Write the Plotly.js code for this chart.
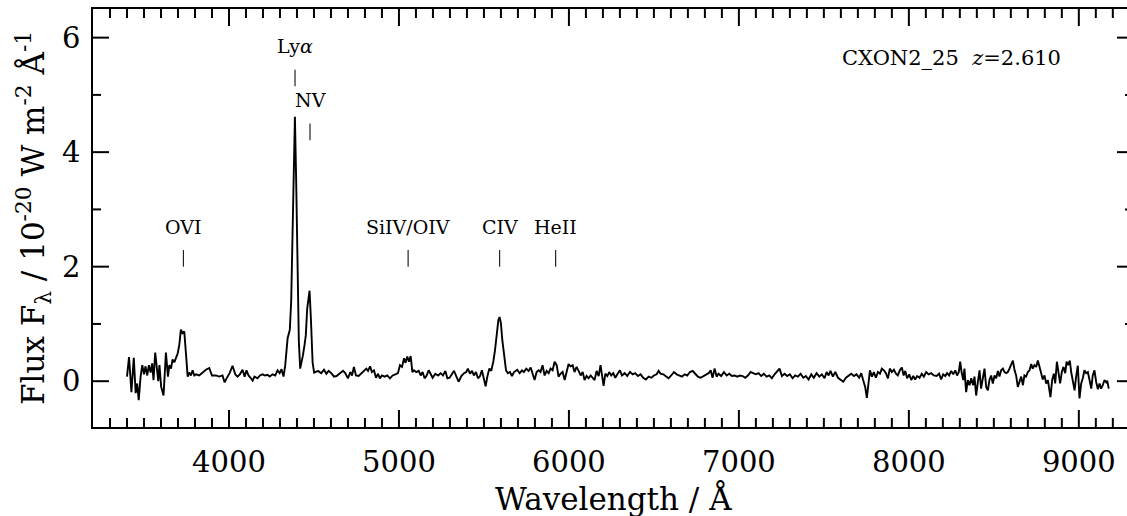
<!DOCTYPE html>
<html>
<head>
<meta charset="utf-8">
<script src="https://cdn.plot.ly/plotly-3.0.1.min.js"></script>
<style>
  html, body { margin: 0; padding: 0; background: #fff; overflow: hidden; }
  #chart { width: 1133px; height: 516px; }
</style>
</head>
<body>
<div id="chart"></div>
<script>
// ---- Spectrum data ----
const wavelength = [
3400,3412,3426,3440,3451,3460,3469,3480,3490,3500,3509,3519,3529,3539,3548,3556,3566,3574,3584,3591,
3601,3615,3629,3641,3649,3659,3668,3678,3688,3698,3708,3717,3727,3737,3747,3757,3766,3776,3786,3796,
3806,3825,3845,3864,3884,3900,3923,3943,3962,3974,3986,4005,4021,4037,4050,4064,4080,4092,4103,4115,
4127,4139,4150,4168,4182,4198,4211,4227,4240,4256,4272,4286,4298,4309,4321,4331,4345,4358,4366,4374,
4382,4388,4396,4403,4411,4419,4427,4435,4444,4452,4460,4468,4474,4482,4492,4501,
4524,4543,4559,4573,4586,4602,4618,4633,4651,4671,4684,4700,4714,4724,4735,4747,4763,4779,4794,4808,
4818,4830,4841,4853,4865,4877,4888,4900,4916,4931,4947,4963,4979,4994,5006,5018,5030,5039,5049,5059,
5069,5079,5088,5102,5116,5128,5139,5151,5163,5175,5186,5198,5214,5230,5245,5259,5273,5285,5298,5312,
5324,5337,5351,5367,5383,5396,5406,5418,5430,5441,5453,5465,5477,5488,5500,5510,5520,5532,5543,5555,
5565,5575,5585,5592,5600,5608,5618,5630,5641,5653,5665,5677,
5696,5710,5724,5735,5749,5763,5775,5788,5798,5810,5822,5833,5845,5857,5869,5881,5892,5904,5916,5928,
5939,5951,5963,5975,5986,5998,6010,6022,6033,6045,6057,6069,6081,6092,6104,6116,6128,6139,6151,6163,
6175,6186,6196,6204,6214,6226,6237,6249,6261,6273,6285,6300,6312,6328,6343,6359,6375,6390,6406,6422,
6437,6453,6469,6485,6500,6516,6528,6539,6555,6571,6586,6602,6618,6634,6649,6665,6681,6696,6712,6728,
6743,6759,6775,6790,6806,6822,6834,6845,
6857,6869,6880,6896,6912,6928,6943,6959,6975,6990,7006,7022,7037,7053,7069,7084,7100,7116,7131,7147,
7163,7179,7194,7210,7226,7239,7253,7269,7284,7300,7316,7331,7347,7363,7379,7394,7410,7426,7441,7457,
7473,7488,7504,7516,7528,7539,7553,7567,7583,7598,7614,7630,7645,7661,7677,7692,7708,7720,7731,7743,
7753,7763,7771,7783,7794,7806,7818,7830,7841,7853,7865,7877,7888,7900,7912,7924,7935,7947,7959,7969,
7979,7990,8002,8014,8026,8037,
8049,8063,8076,8088,8102,8116,8131,8147,8163,8178,8190,8202,8214,8225,8237,8249,8261,8273,8284,8294,
8302,8310,8320,8327,8337,8347,8357,8367,8378,8386,8396,8406,8416,8425,8435,8445,8455,8465,8474,8484,
8494,8504,8514,8524,8533,8543,8553,8563,8573,8582,8592,8602,8612,8622,8631,8641,8651,8661,8671,8680,
8690,8700,8710,8720,8729,8739,8749,8759,8769,8778,8788,8798,8808,8818,8827,8833,8843,8853,8861,8871,
8880,8890,8900,8910,8920,8928,8937,8947,8955,8965,8975,8984,8994,9004,9014,9024,9033,9043,9053,9063,
9073,9082,9092,9102,9112,9122,9131,9141,9151,9161,9167,9176
];
const flux = [
0.08,0.42,-0.19,0.41,-0.21,-0.04,-0.33,0.08,0.28,0.12,0.26,0.10,0.28,0.15,0.31,0.02,0.50,0.28,0.00,0.28,
-0.10,-0.25,0.50,0.08,0.28,0.22,0.38,0.33,0.40,0.48,0.64,0.90,0.84,0.87,0.48,0.08,0.15,0.10,0.19,0.10,
0.12,0.10,0.15,0.20,0.23,0.10,0.10,0.08,0.10,-0.02,0.05,0.15,0.27,0.12,0.08,0.12,0.20,0.08,0.19,0.10,
0.06,0.01,0.08,0.05,0.10,0.12,0.10,0.11,0.08,0.12,0.10,0.19,0.14,0.21,0.08,0.28,0.75,0.90,1.40,2.55,
4.00,4.62,3.40,1.80,0.70,0.22,0.31,0.45,0.62,0.80,1.26,1.52,1.58,1.09,0.33,0.15,
0.18,0.14,0.20,0.13,0.18,0.14,0.08,0.09,0.13,0.18,0.14,0.05,0.16,0.10,0.25,0.10,0.09,0.14,0.18,0.22,
0.18,0.26,0.16,0.19,0.06,0.13,0.05,0.10,0.08,0.10,0.05,0.10,0.12,0.14,0.28,0.25,0.40,0.32,0.43,0.34,
0.44,0.16,0.19,0.16,0.18,0.10,0.16,0.05,0.10,0.19,0.13,0.06,0.13,0.10,0.14,0.10,0.18,0.05,0.06,0.12,
0.18,0.09,-0.01,0.09,0.14,0.16,0.22,0.13,0.18,0.10,0.16,0.05,0.09,0.19,0.05,-0.09,0.08,0.22,0.18,0.34,
0.54,0.86,1.07,1.12,1.01,0.72,0.43,0.19,0.14,0.16,0.09,0.16,
0.20,0.14,0.19,0.16,0.22,0.18,0.24,0.13,0.02,0.16,0.19,0.16,0.28,0.10,0.18,0.14,0.22,0.19,0.34,0.28,
0.08,0.13,0.16,0.02,0.14,0.30,0.26,0.28,0.16,0.25,0.18,0.10,0.16,0.02,0.09,0.05,0.10,0.06,0.02,0.18,
0.09,0.28,0.10,-0.08,0.13,0.09,0.16,0.10,0.14,0.06,0.12,0.19,0.10,0.14,0.09,0.16,0.12,0.14,0.09,0.12,
0.06,0.03,0.08,0.06,0.10,0.12,0.18,0.13,0.12,0.09,0.05,0.10,0.16,0.12,0.10,0.08,0.12,0.10,0.16,0.18,
0.13,0.08,0.06,0.09,0.12,0.14,0.19,0.06,
0.22,0.08,0.13,0.09,0.16,0.10,0.13,0.09,0.10,0.08,0.10,0.09,0.06,0.10,0.16,0.14,0.12,0.14,0.09,0.13,
0.08,0.10,0.05,0.12,0.18,0.22,0.09,0.13,0.09,0.12,0.05,0.10,0.08,0.13,0.06,0.09,0.03,0.12,0.06,0.14,
0.08,0.12,0.05,0.16,0.10,0.18,0.08,0.16,0.06,0.03,-0.01,0.06,0.10,0.13,0.09,0.12,0.06,0.14,0.02,-0.10,
-0.29,-0.04,0.19,0.08,0.16,0.06,0.16,0.13,0.22,0.19,0.14,0.05,0.22,0.16,0.20,0.13,0.10,0.19,0.24,0.10,
0.18,0.05,0.12,0.02,0.09,0.03,
0.09,0.06,0.13,0.08,0.16,0.12,0.14,0.10,0.09,0.13,0.03,0.12,0.09,0.14,0.10,0.18,0.12,0.19,0.10,0.16,
0.34,0.16,0.02,0.22,-0.19,0.02,-0.07,0.05,-0.07,0.08,-0.25,-0.01,0.19,-0.13,0.08,0.22,-0.10,-0.16,0.02,0.10,
-0.04,0.10,0.05,0.18,0.08,0.19,0.22,0.16,0.14,0.16,0.22,0.28,0.36,0.19,0.10,-0.10,-0.01,0.08,-0.07,0.10,
0.08,0.16,0.19,0.30,0.22,0.28,0.25,0.36,0.25,0.12,0.03,0.10,-0.04,0.02,-0.22,-0.28,0.02,0.13,-0.04,0.34,
0.16,-0.04,0.16,0.25,0.14,0.34,0.28,0.36,0.16,0.02,-0.16,0.08,0.27,-0.30,-0.04,0.06,0.19,0.14,0.16,0.02,
-0.13,0.10,0.19,-0.01,-0.14,-0.04,-0.13,-0.07,0.02,-0.02,0.01,-0.13
];

// ---- Emission-line identifications ----
const lineNames = ['OVI', 'Ly<i>α</i>', 'NV', 'SiIV/OIV', 'CIV', 'HeII'];
const lineRest  = [1033.8, 1215.67, 1240.1, 1400.0, 1549.06, 1640.4];
const redshift  = 2.610;
const markBase  = [2.0, 5.15, 4.21, 2.0, 2.0, 2.0];
const objectName = 'CXON2_25';

// ---- Axis ranges and tick steps ----
const xRange = [3200, 3200 + 1040 / 0.16997];
const yRange = [-0.8, 6.5];
const xMajorStep = 1000, xMinorStep = 100;
const yMajorStep = 2, yMinorStep = 1;

const FONT = '"DejaVu Serif", "Liberation Serif", serif';
const obsWave = lineRest.map(w => w * (1 + redshift));

// plot-area size in px (for converting tick lengths to data units)
const PLOT_W = 1040, PLOT_H = 418;
const dxPerPx = (xRange[1] - xRange[0]) / PLOT_W;
const dyPerPx = (yRange[1] - yRange[0]) / PLOT_H;

// inward PGPLOT-style ticks on all four sides, built as one line trace
const tickX = [], tickY = [];
for (let v = xRange[0] + xMinorStep; v < xRange[1]; v += xMinorStep) {
  const len = ((v % xMajorStep === 0) ? 17 : 9) * dyPerPx;
  tickX.push(v, v, null, v, v, null);
  tickY.push(yRange[0], yRange[0] + len, null, yRange[1], yRange[1] - len, null);
}
for (let v = 0; v < yRange[1]; v += yMinorStep) {
  const len = ((v % yMajorStep === 0) ? 16 : 8) * dxPerPx;
  tickX.push(xRange[0], xRange[0] + len, null, xRange[1], xRange[1] - len, null);
  tickY.push(v, v, null, v, v, null);
}
// line-identification marks
const markX = [], markY = [];
obsWave.forEach((w, i) => { markX.push(w, w, null); markY.push(markBase[i], markBase[i] + 0.29, null); });

const annotations = obsWave.map((w, i) => ({
  x: w, y: markBase[i] + 0.70, xref: 'x', yref: 'y',
  text: lineNames[i], showarrow: false,
  xanchor: 'center', yanchor: 'middle',
  font: { family: FONT, size: 19, color: '#000' }
}));
annotations.push({
  x: 8252, y: 5.64, xref: 'x', yref: 'y',
  text: objectName + '  <i>z</i>=' + redshift.toFixed(3),
  showarrow: false, xanchor: 'center', yanchor: 'middle',
  font: { family: FONT, size: 21, color: '#000' }
});
// axis titles
annotations.push({
  x: 0.5, y: 0, xref: 'paper', yref: 'paper', yshift: -71,
  text: 'Wavelength / Å', showarrow: false, xanchor: 'center', yanchor: 'middle',
  font: { family: FONT, size: 31, color: '#000' }
});
annotations.push({
  x: 0, y: 0.5, xref: 'paper', yref: 'paper', xshift: -60, textangle: -90,
  text: 'Flux F<sub>λ</sub> / 10<sup>-20</sup> W m<sup>-2</sup> Å<sup>-1</sup>',
  showarrow: false, xanchor: 'center', yanchor: 'middle',
  font: { family: FONT, size: 31, color: '#000' }
});

const traces = [
  { x: tickX, y: tickY, type: 'scatter', mode: 'lines', connectgaps: false,
    line: { color: '#000', width: 2 }, hoverinfo: 'skip', showlegend: false, cliponaxis: false },
  { x: markX, y: markY, type: 'scatter', mode: 'lines', connectgaps: false,
    line: { color: '#222', width: 1.2 }, hoverinfo: 'skip', showlegend: false },
  { x: wavelength, y: flux, type: 'scatter', mode: 'lines',
    line: { color: '#000', width: 1.9, shape: 'linear' }, hoverinfo: 'skip', showlegend: false }
];

const axisCommon = {
  showline: true, linecolor: '#000', linewidth: 1.8, mirror: true,
  ticks: 'outside', tickcolor: 'rgba(0,0,0,0)',
  showgrid: false, zeroline: false, tickmode: 'linear', tick0: 0,
  tickfont: { family: FONT, size: 29, color: '#000' }
};

const layout = {
  width: 1133, height: 516,
  margin: { l: 93, r: 0, t: 9, b: 89, pad: 0 },
  paper_bgcolor: '#fff', plot_bgcolor: '#fff',
  showlegend: false,
  xaxis: Object.assign({}, axisCommon, { range: xRange, dtick: xMajorStep, ticklen: 8 }),
  yaxis: Object.assign({}, axisCommon, { range: yRange, dtick: yMajorStep, ticklen: 5 }),
  annotations: annotations
};

Plotly.newPlot('chart', traces, layout, { staticPlot: true, displayModeBar: false });
</script>
</body>
</html>
